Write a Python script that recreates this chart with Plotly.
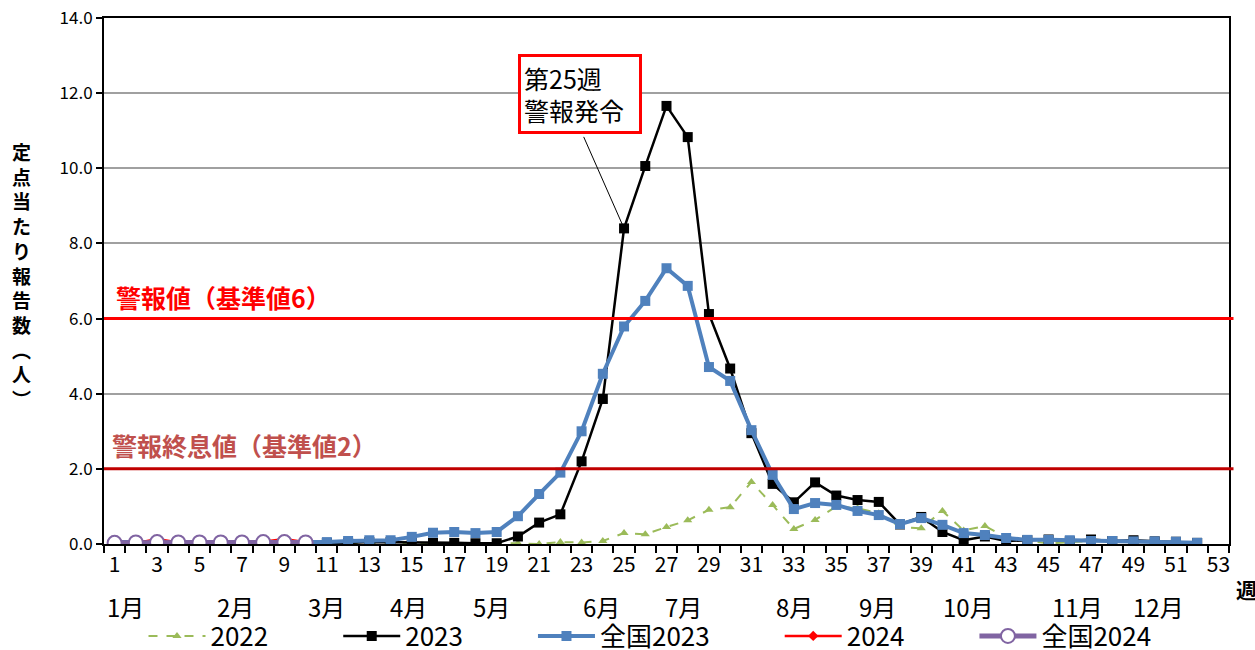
import plotly.graph_objects as go

weeks = list(range(1, 53))
weeks_2024 = list(range(1, 11))

y2022 = [0.03, 0.03, 0.03, 0.03, 0.03, 0.03, 0.03, 0.03, 0.03, 0.03,
         0.02, 0.02, 0.02, 0.02, 0.02, 0.02, 0.02, 0.02, 0.02, 0.02,
         0.0, 0.05, 0.04, 0.08, 0.29, 0.26, 0.45, 0.63, 0.91, 0.98,
         1.65, 1.04, 0.40, 0.64, 1.0, 0.95, 0.82, 0.45, 0.42, 0.88,
         0.36, 0.48, 0.18, 0.08, 0.02, 0.05, 0.08, 0.07, 0.06, 0.05,
         0.05, 0.04]
y2023 = [0.02, 0.02, 0.02, 0.02, 0.02, 0.02, 0.02, 0.02, 0.02, 0.02,
         0.03, 0.03, 0.05, 0.05, 0.03, 0.03, 0.03, 0.02, 0.02, 0.2,
         0.57, 0.79, 2.2, 3.86, 8.4, 10.06, 11.66, 10.83, 6.12, 4.67,
         2.95, 1.6, 1.11, 1.64, 1.29, 1.17, 1.12, 0.52, 0.72, 0.32,
         0.1, 0.2, 0.08, 0.1, 0.12, 0.07, 0.12, 0.08, 0.1, 0.07,
         0.06, 0.03]
y_nat2023 = [0.05, 0.05, 0.05, 0.05, 0.05, 0.05, 0.05, 0.05, 0.05, 0.05,
             0.05, 0.08, 0.1, 0.1, 0.19, 0.3, 0.32, 0.29, 0.32, 0.74,
             1.33, 1.9, 3.0, 4.53, 5.79, 6.47, 7.34, 6.87, 4.71, 4.34,
             3.03, 1.84, 0.93, 1.09, 1.04, 0.88, 0.77, 0.53, 0.69, 0.51,
             0.29, 0.24, 0.16, 0.11, 0.11, 0.1, 0.08, 0.08, 0.07, 0.07,
             0.06, 0.03]
y2024 = [0.0, 0.02, 0.13, 0.04, 0.04, 0.02, 0.04, 0.06, 0.13, 0.05]
y_nat2024 = [0.03, 0.04, 0.05, 0.04, 0.04, 0.04, 0.04, 0.05, 0.05, 0.04]

tick_weeks = list(range(1, 54, 2))
y_ticks = [0, 2, 4, 6, 8, 10, 12, 14]
month_labels = ["1月", "2月", "3月", "4月", "5月", "6月", "7月", "8月", "9月", "10月", "11月", "12月"]
month_pos = [1.52, 6.71, 11.0, 14.83, 18.74, 23.94, 27.8, 33.04, 36.96, 41.25, 46.35, 50.17]

alarm_value = 6
end_value = 2

FONT = "Noto Sans CJK JP"
SP = "\u2003\u2003\u2002"

W, H = 1255, 650
L, R, T, B = 104, 1229, 18, 544

def px_to_paper_x(px):
    return (px - L) / (R - L)
def px_to_paper_y(py):
    return (B - py) / (B - T)

fig = go.Figure()
fig.add_trace(go.Scatter(x=weeks, y=y2022, name="2022" + SP, mode="lines+markers",
                         line=dict(color="#9BBB59", width=2, dash="dash"),
                         marker=dict(symbol="triangle-up", size=8, color="#9BBB59")))
fig.add_trace(go.Scatter(x=weeks, y=y2023, name="2023" + SP, mode="lines+markers",
                         line=dict(color="black", width=2.5),
                         marker=dict(symbol="square", size=10, color="black")))
fig.add_trace(go.Scatter(x=weeks, y=y_nat2023, name="全国2023" + SP, mode="lines+markers",
                         line=dict(color="#4F81BD", width=4),
                         marker=dict(symbol="square", size=10, color="#4F81BD")))
fig.add_trace(go.Scatter(x=weeks_2024, y=y2024, name="2024" + SP, mode="lines+markers",
                         line=dict(color="#FF0000", width=2.5),
                         marker=dict(symbol="diamond", size=8, color="#FF0000")))
fig.add_trace(go.Scatter(x=weeks_2024, y=y_nat2024, name="全国2024", mode="lines+markers",
                         line=dict(color="#8064A2", width=5),
                         marker=dict(symbol="circle", size=14, color="white",
                                     line=dict(color="#8064A2", width=2))))

fig.add_shape(type="line", xref="paper", yref="y", x0=0, x1=1.004, y0=alarm_value, y1=alarm_value,
              line=dict(color="#FF0000", width=3), layer="above")
fig.add_shape(type="line", xref="paper", yref="y", x0=0, x1=1.004, y0=end_value, y1=end_value,
              line=dict(color="#C00000", width=3), layer="above")

annotations = []
annotations.append(dict(x=px_to_paper_x(114), xref="paper", y=alarm_value, yref="y", yshift=22,
                        text="<b>警報値（基準値6）</b>", showarrow=False,
                        xanchor="left", yanchor="middle",
                        font=dict(family=FONT, size=25, color="#FF0000")))
annotations.append(dict(x=px_to_paper_x(110), xref="paper", y=end_value, yref="y", yshift=24,
                        text="<b>警報終息値（基準値2）</b>", showarrow=False,
                        xanchor="left", yanchor="middle",
                        font=dict(family=FONT, size=25, color="#C0504D")))
# callout box
annotations.append(dict(x=22.92, xref="x", y=11.98, yref="y",
                        text="第25週<br>警報発令", showarrow=False, align="left",
                        xanchor="center", yanchor="middle",
                        width=112, height=68, borderpad=3,
                        bordercolor="#FF0000", borderwidth=3, bgcolor="white",
                        font=dict(family=FONT, size=25, color="black")))
annotations.append(dict(x=25, xref="x", y=y2023[24], yref="y", text="", showarrow=True,
                        ax=-41, ay=-93, arrowhead=0, arrowwidth=1, arrowcolor="black", standoff=4))
for lab, pos in zip(month_labels, month_pos):
    annotations.append(dict(x=pos, xref="x", y=px_to_paper_y(606), yref="paper", text=lab,
                            xanchor="center", yanchor="middle",
                            showarrow=False, font=dict(family=FONT, size=24, color="black")))
# y title stacked
annotations.append(dict(x=px_to_paper_x(21), xref="paper", y=px_to_paper_y(275), yref="paper",
                        text="<b>定<br>点<br>当<br>た<br>り<br>報<br>告<br>数<br>︵<br>人<br>︶</b>",
                        xanchor="center", yanchor="middle",
                        showarrow=False, font=dict(family=FONT, size=19, color="black")))
annotations.append(dict(x=px_to_paper_x(1246), xref="paper", y=px_to_paper_y(589), yref="paper",
                        text="<b>週</b>", showarrow=False, xanchor="center", yanchor="middle",
                        font=dict(family=FONT, size=21, color="black")))

fig.update_layout(
    width=W, height=H,
    margin=dict(l=L, r=W - R, t=T, b=H - B, autoexpand=False),
    paper_bgcolor="white", plot_bgcolor="white",
    font=dict(family=FONT, color="black"),
    annotations=annotations,
    showlegend=True,
    legend=dict(orientation="h", x=px_to_paper_x(650), xanchor="center",
                y=px_to_paper_y(636), yanchor="middle",
                font=dict(family=FONT, size=26, color="black"),
                itemwidth=57, bgcolor="rgba(0,0,0,0)"),
    xaxis=dict(range=[0.5, 53.5], tickmode="array", tickvals=tick_weeks,
               ticktext=[str(w) for w in tick_weeks], automargin=False,
               ticks="outside", ticklen=1, tickcolor="rgba(0,0,0,0)",
               tickfont=dict(family=FONT, size=21, color="black"),
               showline=True, linecolor="black", linewidth=2, mirror=True,
               showgrid=False, zeroline=False,
               minor=dict(tick0=0.5, dtick=1, ticks="outside", ticklen=7,
                          tickcolor="black", tickwidth=2, showgrid=False)),
    yaxis=dict(range=[0, 14], tickmode="array", tickvals=y_ticks,
               tickformat=".1f", automargin=False,
               ticks="outside", ticklen=6, tickcolor="black", tickwidth=2,
               tickfont=dict(family=FONT, size=17, color="black"),
               showline=True, linecolor="black", linewidth=2, mirror=True,
               showgrid=True, gridcolor="#A0A0A0", gridwidth=1.5, zeroline=False),
)

fig.write_html("out.html", config={"displayModeBar": False},
               post_script="document.body.style.margin='0px';document.body.style.overflow='hidden';")
